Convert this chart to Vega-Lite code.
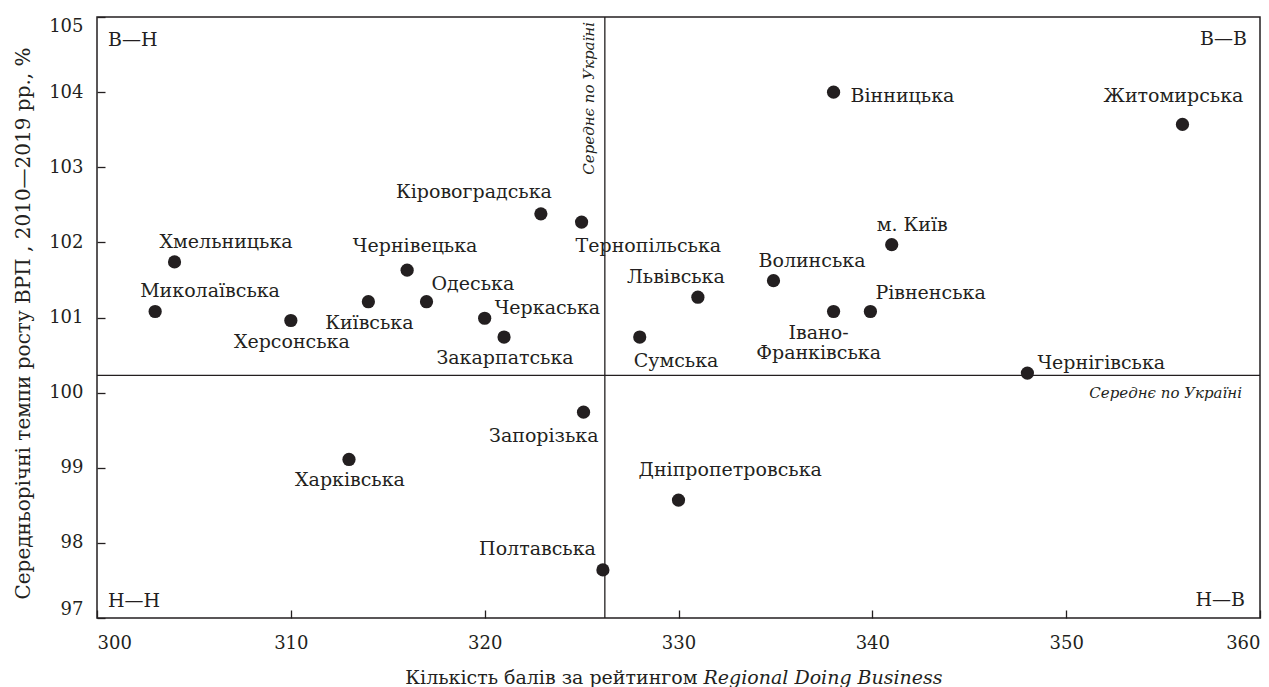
{
  "$schema": "https://vega.github.io/schema/vega-lite/v6.json",
  "width": 1163,
  "height": 601,
  "autosize": {"type": "none"},
  "padding": {"left": 97, "top": 17, "right": 9, "bottom": 69},
  "background": "white",
  "config": {
    "font": "DejaVu Serif",
    "view": {"stroke": "#231f20", "strokeWidth": 1.5},
    "text": {"font": "DejaVu Serif", "fontSize": 19, "color": "#231f20"}
  },
  "datasets": {
    "regions": [
      {"name": "Хмельницька", "x": 304.0, "y": 101.74, "pos": "A"},
      {"name": "Миколаївська", "x": 303.0, "y": 101.08, "pos": "A"},
      {"name": "Херсонська", "x": 310.0, "y": 100.96, "pos": "I"},
      {"name": "Київська", "x": 314.0, "y": 101.21, "pos": "I"},
      {"name": "Чернівецька", "x": 316.0, "y": 101.63, "pos": "C"},
      {"name": "Одеська", "x": 317.0, "y": 101.21, "pos": "B"},
      {"name": "Черкаська", "x": 320.0, "y": 100.99, "pos": "N"},
      {"name": "Закарпатська", "x": 321.0, "y": 100.74, "pos": "I"},
      {"name": "Кіровоградська", "x": 322.9, "y": 102.38, "pos": "F"},
      {"name": "Тернопільська", "x": 325.0, "y": 102.27, "pos": "K"},
      {"name": "Запорізька", "x": 325.1, "y": 99.74, "pos": "L"},
      {"name": "Полтавська", "x": 326.1, "y": 97.64, "pos": "G"},
      {"name": "Сумська", "x": 328.0, "y": 100.74, "pos": "K"},
      {"name": "Дніпропетровська", "x": 330.0, "y": 98.57, "pos": "H"},
      {"name": "Львівська", "x": 331.0, "y": 101.27, "pos": "E"},
      {"name": "Волинська", "x": 334.9, "y": 101.49, "pos": "A"},
      {"name": "Вінницька", "x": 338.0, "y": 104.0, "pos": "M"},
      {"name": "Івано-\nФранківська", "x": 338.0, "y": 101.08, "pos": "J"},
      {"name": "Рівненська", "x": 339.9, "y": 101.08, "pos": "B"},
      {"name": "м. Київ", "x": 341.0, "y": 101.97, "pos": "A"},
      {"name": "Чернігівська", "x": 348.0, "y": 100.26, "pos": "N"},
      {"name": "Харківська", "x": 313.0, "y": 99.11, "pos": "I"},
      {"name": "Житомирська", "x": 356.0, "y": 103.57, "pos": "D"}
    ],
    "quadrants": [
      {"q": "В—Н", "x": 300, "y": 105},
      {"q": "В—В", "x": 360, "y": 105},
      {"q": "Н—Н", "x": 300, "y": 97},
      {"q": "Н—В", "x": 360, "y": 97}
    ],
    "means": [{"mx": 326.2, "my": 100.23}]
  },
  "resolve": {"axis": {"x": "independent"}},
  "layer": [
    {
      "layer": [
        {
          "data": {"name": "means"},
          "mark": {"type": "rule", "color": "#231f20", "strokeWidth": 1.3},
          "encoding": {
            "y": {"field": "my", "type": "quantitative"}
          }
        },
        {
          "data": {"name": "means"},
          "mark": {"type": "text", "angle": 270, "align": "right", "baseline": "alphabetic", "dx": -5, "dy": -11, "fontStyle": "italic", "fontSize": 15},
          "encoding": {
            "x": {"field": "mx", "type": "quantitative"},
            "y": {"datum": 105, "type": "quantitative"},
            "text": {"value": "Середнє по Україні"}
          }
        },
        {
          "data": {"name": "means"},
          "mark": {"type": "text", "align": "right", "baseline": "middle", "dx": -18, "dy": 18, "fontStyle": "italic", "fontSize": 15},
          "encoding": {
            "x": {"datum": 360, "type": "quantitative"},
            "y": {"field": "my", "type": "quantitative"},
            "text": {"value": "Середнє по Україні"}
          }
        },
        {
          "data": {"name": "regions"},
          "mark": {"type": "circle", "size": 175, "color": "#231f20", "opacity": 1},
          "encoding": {
            "x": {
              "field": "x", "type": "quantitative",
              "scale": {"domain": [300, 360], "nice": false, "zero": false},
              "axis": {
                "values": [300, 310, 320, 330, 340, 350, 360], "format": "d",
                "tickSize": -8, "tickColor": "#231f20", "tickWidth": 1.3,
                "domain": false, "grid": false,
                "labelFont": "DejaVu Serif", "labelFontSize": 18, "labelColor": "#231f20",
                "labelPadding": 24, "labelFlush": true,
                "title": "Кількість балів за рейтингом",
                "titleFont": "DejaVu Serif", "titleFontSize": 19, "titleFontWeight": "normal", "titleColor": "#231f20",
                "titleX": 600, "titleY": 65, "titleAlign": "right", "titleBaseline": "alphabetic"
              }
            },
            "y": {
              "field": "y", "type": "quantitative",
              "scale": {"domain": [97, 105], "nice": false, "zero": false},
              "axis": {
                "values": [97, 98, 99, 100, 101, 102, 103, 104, 105], "format": "d",
                "tickSize": -8, "tickColor": "#231f20", "tickWidth": 1.3,
                "domain": false, "grid": false,
                "labelFont": "DejaVu Serif", "labelFontSize": 18, "labelColor": "#231f20",
                "labelPadding": 22, "labelFlush": true,
                "title": "Середньорічні темпи росту ВРП , 2010—2019 рр., %",
                "titleFont": "DejaVu Serif", "titleFontSize": 20, "titleFontWeight": "normal", "titleColor": "#231f20",
                "titleX": -74, "titleY": 306, "titleAngle": 270, "titleAlign": "center", "titleBaseline": "middle"
              }
            }
          }
        },
        {
          "data": {"name": "regions"},
          "transform": [{"filter": "datum.pos === 'A'"}],
          "mark": {"type": "text", "align": "left", "baseline": "middle", "dx": -15, "dy": -20},
          "encoding": {"x": {"field": "x", "type": "quantitative"}, "y": {"field": "y", "type": "quantitative"}, "text": {"field": "name"}}
        },
        {
          "data": {"name": "regions"},
          "transform": [{"filter": "datum.pos === 'B'"}],
          "mark": {"type": "text", "align": "left", "baseline": "middle", "dx": 5, "dy": -18},
          "encoding": {"x": {"field": "x", "type": "quantitative"}, "y": {"field": "y", "type": "quantitative"}, "text": {"field": "name"}}
        },
        {
          "data": {"name": "regions"},
          "transform": [{"filter": "datum.pos === 'C'"}],
          "mark": {"type": "text", "align": "center", "baseline": "middle", "dx": 8, "dy": -24},
          "encoding": {"x": {"field": "x", "type": "quantitative"}, "y": {"field": "y", "type": "quantitative"}, "text": {"field": "name"}}
        },
        {
          "data": {"name": "regions"},
          "transform": [{"filter": "datum.pos === 'D'"}],
          "mark": {"type": "text", "align": "center", "baseline": "middle", "dx": -9, "dy": -28},
          "encoding": {"x": {"field": "x", "type": "quantitative"}, "y": {"field": "y", "type": "quantitative"}, "text": {"field": "name"}}
        },
        {
          "data": {"name": "regions"},
          "transform": [{"filter": "datum.pos === 'E'"}],
          "mark": {"type": "text", "align": "center", "baseline": "middle", "dx": -22, "dy": -20},
          "encoding": {"x": {"field": "x", "type": "quantitative"}, "y": {"field": "y", "type": "quantitative"}, "text": {"field": "name"}}
        },
        {
          "data": {"name": "regions"},
          "transform": [{"filter": "datum.pos === 'F'"}],
          "mark": {"type": "text", "align": "right", "baseline": "middle", "dx": 11, "dy": -22},
          "encoding": {"x": {"field": "x", "type": "quantitative"}, "y": {"field": "y", "type": "quantitative"}, "text": {"field": "name"}}
        },
        {
          "data": {"name": "regions"},
          "transform": [{"filter": "datum.pos === 'G'"}],
          "mark": {"type": "text", "align": "right", "baseline": "middle", "dx": -7, "dy": -21},
          "encoding": {"x": {"field": "x", "type": "quantitative"}, "y": {"field": "y", "type": "quantitative"}, "text": {"field": "name"}}
        },
        {
          "data": {"name": "regions"},
          "transform": [{"filter": "datum.pos === 'H'"}],
          "mark": {"type": "text", "align": "left", "baseline": "middle", "dx": -40, "dy": -30},
          "encoding": {"x": {"field": "x", "type": "quantitative"}, "y": {"field": "y", "type": "quantitative"}, "text": {"field": "name"}}
        },
        {
          "data": {"name": "regions"},
          "transform": [{"filter": "datum.pos === 'I'"}],
          "mark": {"type": "text", "align": "center", "baseline": "middle", "dx": 1, "dy": 21},
          "encoding": {"x": {"field": "x", "type": "quantitative"}, "y": {"field": "y", "type": "quantitative"}, "text": {"field": "name"}}
        },
        {
          "data": {"name": "regions"},
          "transform": [{"filter": "datum.pos === 'J'"}],
          "mark": {"type": "text", "align": "center", "baseline": "top", "dx": -15, "dy": 13, "lineBreak": "\n", "lineHeight": 20},
          "encoding": {"x": {"field": "x", "type": "quantitative"}, "y": {"field": "y", "type": "quantitative"}, "text": {"field": "name"}}
        },
        {
          "data": {"name": "regions"},
          "transform": [{"filter": "datum.pos === 'K'"}],
          "mark": {"type": "text", "align": "left", "baseline": "middle", "dx": -6, "dy": 24},
          "encoding": {"x": {"field": "x", "type": "quantitative"}, "y": {"field": "y", "type": "quantitative"}, "text": {"field": "name"}}
        },
        {
          "data": {"name": "regions"},
          "transform": [{"filter": "datum.pos === 'L'"}],
          "mark": {"type": "text", "align": "right", "baseline": "middle", "dx": 15, "dy": 24},
          "encoding": {"x": {"field": "x", "type": "quantitative"}, "y": {"field": "y", "type": "quantitative"}, "text": {"field": "name"}}
        },
        {
          "data": {"name": "regions"},
          "transform": [{"filter": "datum.pos === 'M'"}],
          "mark": {"type": "text", "align": "left", "baseline": "middle", "dx": 17, "dy": 4},
          "encoding": {"x": {"field": "x", "type": "quantitative"}, "y": {"field": "y", "type": "quantitative"}, "text": {"field": "name"}}
        },
        {
          "data": {"name": "regions"},
          "transform": [{"filter": "datum.pos === 'N'"}],
          "mark": {"type": "text", "align": "left", "baseline": "middle", "dx": 10, "dy": -10},
          "encoding": {"x": {"field": "x", "type": "quantitative"}, "y": {"field": "y", "type": "quantitative"}, "text": {"field": "name"}}
        },
        {
          "data": {"name": "quadrants"},
          "transform": [{"filter": "datum.q === 'В—Н'"}],
          "mark": {"type": "text", "align": "left", "baseline": "middle", "dx": 11, "dy": 23},
          "encoding": {"x": {"field": "x", "type": "quantitative"}, "y": {"field": "y", "type": "quantitative"}, "text": {"field": "q"}}
        },
        {
          "data": {"name": "quadrants"},
          "transform": [{"filter": "datum.q === 'В—В'"}],
          "mark": {"type": "text", "align": "right", "baseline": "middle", "dx": -13, "dy": 22},
          "encoding": {"x": {"field": "x", "type": "quantitative"}, "y": {"field": "y", "type": "quantitative"}, "text": {"field": "q"}}
        },
        {
          "data": {"name": "quadrants"},
          "transform": [{"filter": "datum.q === 'Н—Н'"}],
          "mark": {"type": "text", "align": "left", "baseline": "middle", "dx": 11, "dy": -17},
          "encoding": {"x": {"field": "x", "type": "quantitative"}, "y": {"field": "y", "type": "quantitative"}, "text": {"field": "q"}}
        },
        {
          "data": {"name": "quadrants"},
          "transform": [{"filter": "datum.q === 'Н—В'"}],
          "mark": {"type": "text", "align": "right", "baseline": "middle", "dx": -15, "dy": -18},
          "encoding": {"x": {"field": "x", "type": "quantitative"}, "y": {"field": "y", "type": "quantitative"}, "text": {"field": "q"}}
        }
      ]
    },
    {
      "data": {"name": "means"},
      "mark": {"type": "rule", "color": "#231f20", "strokeWidth": 1.3},
      "encoding": {
        "x": {
          "field": "mx", "type": "quantitative",
          "scale": {"domain": [300, 360], "nice": false, "zero": false},
          "axis": {
            "orient": "top", "labels": false, "ticks": false, "domain": false, "grid": false,
            "title": "Regional Doing Business",
            "titleFont": "DejaVu Serif", "titleFontSize": 19, "titleFontWeight": "normal", "titleFontStyle": "italic", "titleColor": "#231f20",
            "titleX": 606, "titleY": 666, "titleAlign": "left", "titleBaseline": "alphabetic"
          }
        }
      }
    }
  ]
}
